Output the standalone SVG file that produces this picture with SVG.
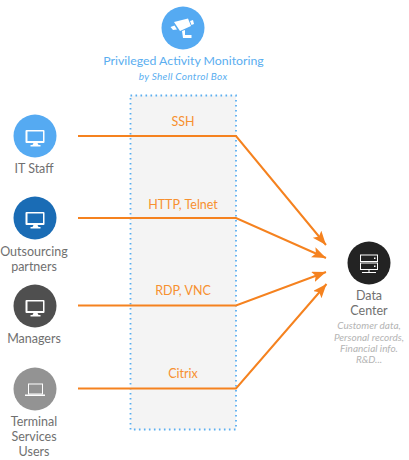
<svg xmlns="http://www.w3.org/2000/svg" width="409" height="460" viewBox="0 0 409 460">
<style>
text{font-family:Lato,"Liberation Sans",sans-serif;text-anchor:middle}
.l{font-size:12.500px;fill:#707070}
.p{font-size:12.500px;fill:#f7902f}
.s{font-size:10px;fill:#b4b4b4;font-style:italic}
.c{fill:none;stroke:#f5821f;stroke-width:2}
.i{fill:#fff}
</style>
<defs>
<marker id="a" markerUnits="userSpaceOnUse" markerWidth="15" markerHeight="12" refX="14" refY="5.500" orient="auto"><path d="M0 0L14 5.500L0 11L3 5.500Z" fill="#f5821f"/></marker>
<path id="mon" class="i" d="M-8.500-8h17a1 1 0 0 1 1 1v11a1 1 0 0 1-1 1h-6l1 2h2v1.500h-10v-1.500h2l1-2h-7a1 1 0 0 1-1-1v-11a1 1 0 0 1 1-1Z"/>
</defs>
<rect id="band" x="130.500" y="95.500" width="105.500" height="334" fill="#f4f4f4" stroke="#5aaef0" stroke-width="1.800" stroke-dasharray="1.600 3.400"/>
<g id="connectors">
<path class="c" marker-end="url(#a)" d="M78 136H236L326 245"/>
<path class="c" marker-end="url(#a)" d="M78 218H236L326 258"/>
<path class="c" marker-end="url(#a)" d="M78 305.500H236L326 272"/>
<path class="c" marker-end="url(#a)" d="M78 388.500H236L326.500 284"/>
</g>
<g id="labels">
<text class="p" x="183" y="126">SSH</text>
<text class="p" x="183" y="209">HTTP, Telnet</text>
<text class="p" x="183" y="295">RDP, VNC</text>
<text class="p" x="183" y="378">Citrix</text>
</g>
<g id="monitoring">
<circle cx="183" cy="28" r="21.500" fill="#55aaf2"/>
<path class="i" d="M174 22L188 18.500L191 26L180 31ZM170.500 27L174.500 25.500L177 29.500L173 30ZM190 21L193 20L194 24L191.500 25ZM182 31L185 30V35H191.500V38H183Z"/>
<text x="183.500" y="65" font-size="12.300" fill="#5aaef0">Privileged Activity Monitoring</text>
<text x="183" y="80" font-size="10" font-style="italic" letter-spacing=".3" fill="#5aaef0">by Shell Control Box</text>
</g>
<g id="it-staff">
<circle cx="35" cy="136" r="21.500" fill="#55aaf2"/>
<use href="#mon" x="35" y="138"/>
<rect x="27.500" y="131.500" width="15.500" height="9.500" fill="#55aaf2"/>
<text class="l" x="34" y="173">IT Staff</text>
</g>
<g id="outsourcing">
<circle cx="35" cy="218" r="21.500" fill="#1a6cb5"/>
<use href="#mon" x="35" y="220"/>
<rect x="27.500" y="213.500" width="15.500" height="9.500" fill="#1a6cb5"/>
<text class="l" x="34" y="256">Outsourcing</text>
<text class="l" x="34" y="271">partners</text>
</g>
<g id="managers">
<circle cx="35" cy="306" r="21.500" fill="#4f4f4f"/>
<use href="#mon" x="35" y="308"/>
<rect x="27.500" y="301.500" width="15.500" height="9.500" fill="#4f4f4f"/>
<text class="l" x="34" y="343">Managers</text>
</g>
<g id="terminal">
<circle cx="35" cy="389" r="21.500" fill="#939393"/>
<rect x="28.500" y="384" width="14" height="10" fill="none" stroke="#fff" stroke-width="1"/>
<rect x="25" y="394.500" width="20" height="1.500" fill="#fff"/>
<text class="l" x="34" y="426">Terminal</text>
<text class="l" x="34" y="441">Services</text>
<text class="l" x="34" y="456">Users</text>
</g>
<g id="data-center">
<circle cx="369" cy="263" r="21.500" fill="#232323"/>
<rect x="360.500" y="255" width="17" height="6.500" fill="none" stroke="#fff"/>
<rect x="360.500" y="263" width="17" height="6.500" fill="none" stroke="#fff"/>
<path d="M369 269.500v3M362 272.500h14" stroke="#fff" fill="none"/>
<rect x="374" y="257.500" width="1.500" height="1.500" class="i"/>
<rect x="374" y="265.500" width="1.500" height="1.500" class="i"/>
<text class="l" x="369" y="300">Data</text>
<text class="l" x="369" y="315">Center</text>
<text class="s" x="369" y="329">Customer data,</text>
<text class="s" x="369" y="341">Personal records,</text>
<text class="s" x="369" y="352">Financial info.</text>
<text class="s" x="369" y="363">R&amp;D...</text>
</g>
</svg>
